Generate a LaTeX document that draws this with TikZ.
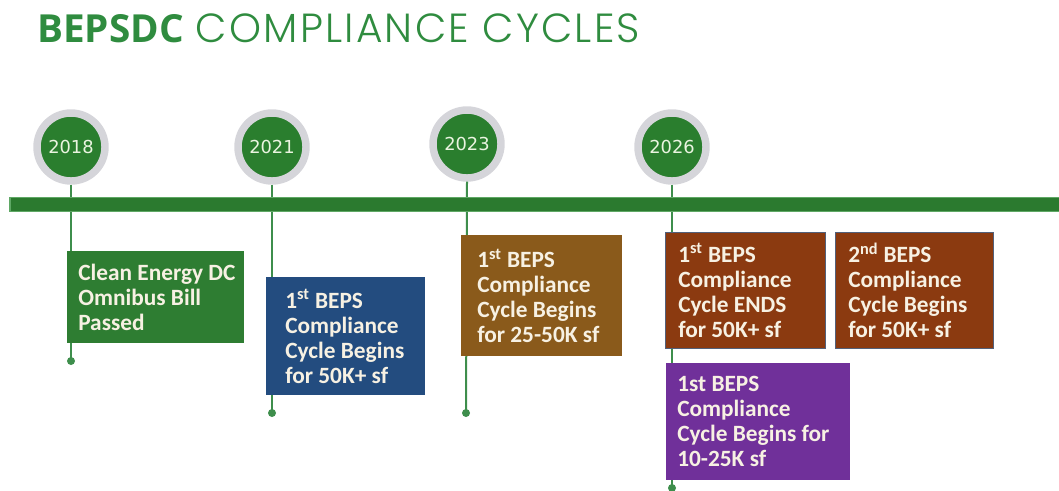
\documentclass[tikz,border=0pt]{standalone}
\usepackage{fontspec}
\setmainfont{Carlito}
\newfontfamily\headfont[LetterSpace=5.5]{Poppins Light}
\newfontfamily\headboldfont{Open Sans}
\newfontfamily\yearfont{DejaVu Sans}
\definecolor{titlegreen}{HTML}{2F8C3F}
\definecolor{yeargreen}{HTML}{2A7E2E}
\definecolor{ringgray}{HTML}{D5D5DA}
\definecolor{yeartext}{HTML}{EAF4E0}
\definecolor{bargreen}{HTML}{2B7A2F}
\definecolor{barrim}{HTML}{5FA865}
\definecolor{stemgreen}{HTML}{3E8E4C}
\definecolor{cleangreen}{HTML}{2E7D32}
\definecolor{bepsblue}{HTML}{234C7F}
\definecolor{bepsbrown}{HTML}{8A5A1B}
\definecolor{bepsrust}{HTML}{8B3A10}
\definecolor{bepspurple}{HTML}{70309A}
\definecolor{paneltxt}{HTML}{F7F1E3}
\definecolor{panelrim}{HTML}{52607A}

\begin{document}
\begin{tikzpicture}[x=0.75pt,y=-0.75pt,
      yearring/.style={circle, fill=yeargreen, draw=ringgray, line width=5.6pt, minimum size=51pt, inner sep=0pt, text=yeartext, font=\yearfont\fontsize{13.4}{13.4}\selectfont},
      stem/.style={draw=stemgreen, line width=1.5pt},
      panel/.style={anchor=north west, inner sep=0pt},
      paneltext/.style={anchor=west, align=left, inner sep=0pt, text=paneltxt, font=\bfseries\fontsize{17.5}{18.75}\selectfont}]
      \useasboundingbox (0,0) rectangle (1059,490);
      \node [anchor=base west, inner sep=0pt, text=titlegreen] (title) at (37,42) {{\headboldfont\bfseries\fontsize{29}{29}\selectfont BEPSDC}\hspace{9pt}{\headfont\fontsize{30.5}{30.5}\selectfont COMPLIANCE CYCLES}};
      \node [yearring] (y2018) at (71,147) {2018};
      \node [yearring] (y2021) at (272,147) {2021};
      \node [yearring] (y2023) at (467,144) {2023};
      \node [yearring] (y2026) at (672,147) {2026};
      \coordinate (d2018) at (71,361);
      \coordinate (d2021) at (272,413);
      \coordinate (d2023) at (466,413);
      \coordinate (d2026) at (672,488);
      \draw [stem] (y2018.south) -- (d2018);
      \draw [stem] (y2021.south) -- (d2021);
      \draw [stem] (y2023.south) -- (d2023);
      \draw [stem] (y2026.south) -- (d2026);
      \draw [fill=bargreen, draw=barrim, line width=0.8pt] (10,197.5) rectangle (1065,211.5);
      \node [panel, fill=cleangreen, minimum width=132.75pt, minimum height=69pt] (b2018) at (67,251) {};
      \node [paneltext] (t2018) at ([xshift=8.25pt]b2018.west) {Clean Energy DC\\Omnibus Bill\\Passed};
      \node [panel, fill=bepsblue, minimum width=119.25pt, minimum height=88.5pt] (b2021) at (266,277) {};
      \node [paneltext] (t2021) at ([xshift=14.25pt]b2021.west) {1\textsuperscript{st} BEPS\\Compliance\\Cycle Begins\\for 50K+ sf};
      \node [panel, fill=bepsbrown, minimum width=120.75pt, minimum height=90.75pt] (b2023) at (461,235) {};
      \node [paneltext] (t2023) at ([xshift=12pt]b2023.west) {1\textsuperscript{st} BEPS\\Compliance\\Cycle Begins\\for 25-50K sf};
      \node [panel, fill=bepsrust, draw=panelrim, line width=0.6pt, minimum width=120pt, minimum height=87pt] (b2026a) at (665,232) {};
      \node [paneltext] (t2026a) at ([xshift=9.75pt]b2026a.west) {1\textsuperscript{st} BEPS\\Compliance\\Cycle ENDS\\for 50K+ sf};
      \node [panel, fill=bepsrust, draw=panelrim, line width=0.6pt, minimum width=118.5pt, minimum height=87pt] (b2026b) at (835,232) {};
      \node [paneltext] (t2026b) at ([xshift=9.75pt]b2026b.west) {2\textsuperscript{nd} BEPS\\Compliance\\Cycle Begins\\for 50K+ sf};
      \node [panel, fill=bepspurple, minimum width=138pt, minimum height=87.75pt] (b2026c) at (666,363) {};
      \node [paneltext] (t2026c) at ([xshift=8.25pt]b2026c.west) {1st BEPS\\Compliance\\Cycle Begins for\\10-25K sf};
      \fill [stemgreen] (d2018) circle (3pt);
      \fill [stemgreen] (d2021) circle (3pt);
      \fill [stemgreen] (d2023) circle (3pt);
      \fill [stemgreen] (d2026) circle (3pt);
   \end{tikzpicture}
\end{document}
